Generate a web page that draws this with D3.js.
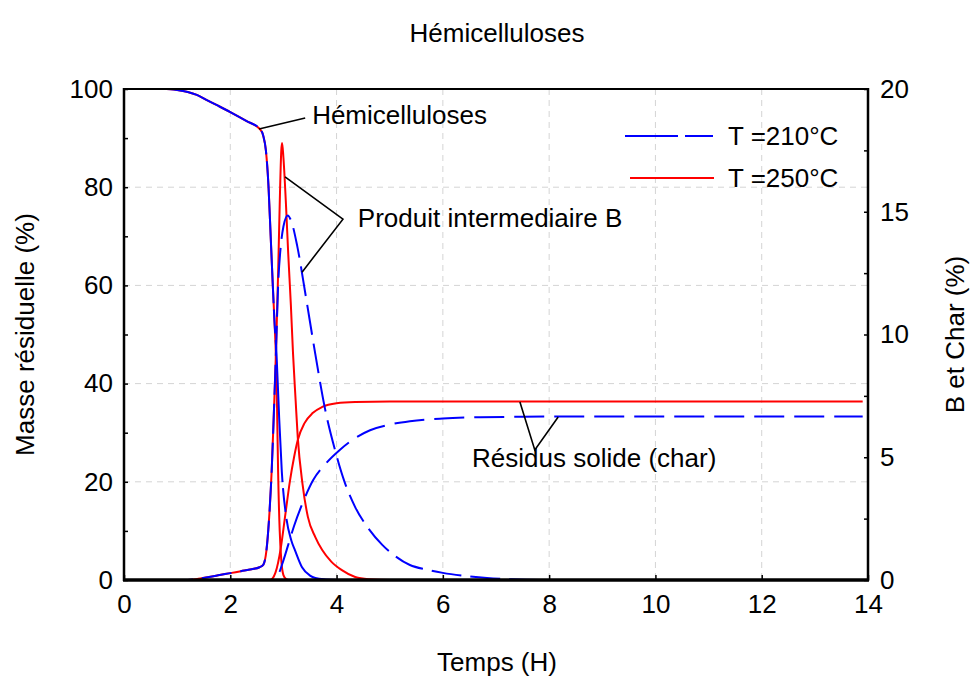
<!DOCTYPE html>
<html>
<head>
<meta charset="utf-8">
<script src="https://cdn.jsdelivr.net/npm/d3@7"></script>
<style>
  body { margin: 0; background: #fff; }
  svg { display: block; font-family: Arial, "Liberation Sans", Helvetica, sans-serif; }
</style>
</head>
<body>
<svg id="chart" width="970" height="678"></svg>
<script>
// ---------- DATA (time in hours) ----------
// Hemicelluloses, left axis (%)
const hemi210 = [[0,100],[0.5,100],[0.8,100],[1.0,99.8],[1.2,99.4],[1.37,98.8],[1.55,97.8],[1.75,96.7],[2.0,95.3],[2.3,93.5],[2.56,91.8],
  [2.62,90.5],[2.67,87.5],[2.72,80],[2.76,70],[2.8,60],[2.83,53],[2.87,46],[2.92,33],[2.97,22],[3.05,13],
  [3.15,8],[3.22,6],[3.35,2.6],[3.5,0.9],[3.6,0.4],[3.8,0.1],[4.0,0],[13.9,0]];
const hemi250 = [[0,100],[0.5,100],[0.8,100],[1.0,99.8],[1.2,99.4],[1.37,98.8],[1.55,97.8],[1.75,96.7],[2.0,95.3],[2.3,93.5],[2.56,91.8],
  [2.62,90.5],[2.67,87.5],[2.72,80],[2.76,70],[2.8,60],[2.83,53],[2.86,45],[2.88,35],[2.9,22],[2.93,10],
  [2.96,4],[3.0,1],[3.05,0.2],[3.1,0],[13.9,0]];
// Intermediate product B, right axis (%)
const b210 = [[0,0],[1.2,0],[1.4,0.05],[1.6,0.12],[1.8,0.2],[2.0,0.28],[2.2,0.36],[2.4,0.44],[2.55,0.52],[2.62,0.62],
  [2.68,1.2],[2.73,2.5],[2.78,4.5],[2.82,6.8],[2.86,9.3],[2.9,12.0],[2.95,13.6],[3.0,14.4],[3.08,14.85],[3.15,14.6],
  [3.26,13.6],[3.41,11.7],[3.6,9.2],[3.78,7.0],[3.97,5.3],[4.15,4.0],[4.35,2.97],[4.6,2.1],[4.86,1.43],[5.1,0.98],
  [5.38,0.61],[5.7,0.42],[6.0,0.29],[6.4,0.17],[6.83,0.08],[7.3,0.03],[8.0,0],[13.9,0]];
const b250 = [[0,0],[1.2,0],[1.4,0.05],[1.6,0.12],[1.8,0.2],[2.0,0.28],[2.2,0.36],[2.4,0.44],[2.55,0.52],[2.62,0.62],
  [2.68,1.2],[2.73,2.5],[2.78,4.5],[2.82,6.8],[2.86,9.3],[2.9,12.5],[2.93,15.3],[2.96,17.5],[2.975,17.8],[3.0,17.2],
  [3.05,15.2],[3.09,13.3],[3.14,11.2],[3.18,9.25],[3.23,7.3],[3.27,5.8],[3.36,3.9],[3.46,2.57],[3.6,1.75],
  [3.73,1.22],[3.9,0.75],[4.1,0.4],[4.35,0.12],[4.6,0.03],[5.0,0],[13.9,0]];
// Solid residue (char), right axis (%)
const char210 = [[0,0],[2.82,0],[2.9,0.2],[3.0,0.8],[3.09,1.43],[3.2,2.2],[3.37,3.18],[3.56,4.07],[3.8,4.75],
  [4.06,5.3],[4.35,5.78],[4.63,6.1],[5.0,6.33],[5.38,6.47],[6.0,6.58],[6.7,6.63],[7.5,6.65],[8.0,6.66],[13.9,6.66]];
const char250 = [[0,0],[2.75,0],[2.85,0.3],[2.95,1.3],[3.03,2.57],[3.12,4.0],[3.2,5.0],[3.27,5.7],[3.4,6.4],
  [3.55,6.8],[3.73,7.05],[4.0,7.2],[4.35,7.25],[5.0,7.27],[13.9,7.27]];

const xTicks = [0,2,4,6,8,10,12,14];
const yLeftTicks = [0,20,40,60,80,100];
const yRightTicks = [0,5,10,15,20];
const legendLabels = ["T =210°C", "T =250°C"];

// annotations in data units (time, left-axis %)
const annHemi = { text: "Hémicelluloses", pts: [[2.54,91.85],[3.41,94.1]], at: [3.54,92.9] };
const annB = { text: "Produit intermediaire B", pts: [[3.03,82.1],[4.12,73.5],[3.35,62.7]], at: [4.40,71.9] };
const annChar = { text: "Résidus solide (char)", pts: [[7.45,36.25],[7.73,26.5],[8.17,33.2]], at: [6.55,23.0] };

// ---------- LAYOUT ----------
const svg = d3.select("#chart");
const L = 124, R = 868, T = 89, B = 580;
const x = d3.scaleLinear().domain([0,14]).range([L,R]);
const yL = d3.scaleLinear().domain([0,100]).range([B,T]);
const yR = d3.scaleLinear().domain([0,20]).range([B,T]);
const FS = 26;

// grid
const grid = svg.append("g").attr("stroke", "#d4d4d4").attr("stroke-width", 1).attr("stroke-dasharray", "6,5");
xTicks.filter(d => d > 0 && d < 14).forEach(d => {
  grid.append("line").attr("x1", x(d)).attr("x2", x(d)).attr("y1", T).attr("y2", B);
});
yLeftTicks.filter(d => d > 0 && d < 100).forEach(d => {
  grid.append("line").attr("x1", L).attr("x2", R).attr("y1", yL(d)).attr("y2", yL(d));
});

// curves
const lineL = d3.line().x(d => x(d[0])).y(d => yL(d[1])).curve(d3.curveMonotoneX);
const lineR = d3.line().x(d => x(d[0])).y(d => yR(d[1])).curve(d3.curveMonotoneX);
const red = "#ff0000", blue = "#0000ff";
const curves = svg.append("g").attr("fill", "none").attr("stroke-width", 2);
curves.append("path").attr("d", lineL(hemi250)).attr("stroke", red);
curves.append("path").attr("d", lineR(b250)).attr("stroke", red);
curves.append("path").attr("d", lineR(char250)).attr("stroke", red);
curves.append("path").attr("d", lineL(hemi210)).attr("stroke", blue).attr("stroke-dasharray", "142,6,24,7");
curves.append("path").attr("d", lineR(b210)).attr("stroke", blue).attr("stroke-dasharray", "30,9");
curves.append("path").attr("d", lineR(char210)).attr("stroke", blue).attr("stroke-dasharray", "30,10");

// axes (ticks pointing inward)
const axisStyle = g => {
  g.selectAll(".domain").remove();
  g.selectAll("line").attr("stroke", "#000").attr("stroke-width", 1.5);
  g.selectAll("text").attr("font-size", FS).attr("fill", "#000").attr("font-family", "Arial, 'Liberation Sans', sans-serif");
};
svg.append("g").attr("transform", `translate(${L},0)`)
  .call(d3.axisLeft(yL).tickValues(yLeftTicks).tickSizeInner(-4).tickSizeOuter(0).tickPadding(11).tickFormat(d3.format("d")))
  .call(axisStyle);
svg.append("g").attr("transform", `translate(${L},0)`)
  .call(d3.axisLeft(yL).tickValues(d3.range(10,100,20)).tickSizeInner(-4).tickSizeOuter(0).tickFormat(""))
  .call(axisStyle);
svg.append("g").attr("transform", `translate(${R},0)`)
  .call(d3.axisRight(yR).tickValues(yRightTicks).tickSizeInner(-4).tickSizeOuter(0).tickPadding(12).tickFormat(d3.format("d")))
  .call(axisStyle);
svg.append("g").attr("transform", `translate(${R},0)`)
  .call(d3.axisRight(yR).tickValues(d3.range(2.5,20,5)).tickSizeInner(-4).tickSizeOuter(0).tickFormat(""))
  .call(axisStyle);
svg.append("g").attr("transform", `translate(0,${B})`)
  .call(d3.axisBottom(x).tickValues(xTicks).tickSizeInner(-5).tickSizeOuter(0).tickPadding(15).tickFormat(d3.format("d")))
  .call(axisStyle);

// frame
const frame = svg.append("g").attr("stroke", "#000").attr("fill", "none");
frame.append("line").attr("x1", L).attr("x2", R).attr("y1", T).attr("y2", T).attr("stroke-width", 2);
frame.append("line").attr("x1", L).attr("x2", L).attr("y1", T-1).attr("y2", B+1).attr("stroke-width", 2.5);
frame.append("line").attr("x1", R).attr("x2", R).attr("y1", T-1).attr("y2", B+1).attr("stroke-width", 2.5);
frame.append("line").attr("x1", L-1).attr("x2", R+1).attr("y1", B).attr("y2", B).attr("stroke-width", 3.5);

// annotations
const ann = svg.append("g");
[annHemi, annB, annChar].forEach(a => {
  ann.append("path")
    .attr("d", d3.line().x(d => x(d[0])).y(d => yL(d[1]))(a.pts))
    .attr("fill", "none").attr("stroke", "#000").attr("stroke-width", 1.6);
  ann.append("text").attr("x", x(a.at[0])).attr("y", yL(a.at[1]))
    .attr("font-size", FS).attr("fill", "#000").text(a.text);
});

// legend
const leg = svg.append("g");
leg.append("line").attr("x1", 625).attr("x2", 713).attr("y1", 136).attr("y2", 136)
  .attr("stroke", blue).attr("stroke-width", 2).attr("stroke-dasharray", "53,7");
leg.append("line").attr("x1", 630).attr("x2", 714).attr("y1", 178).attr("y2", 178)
  .attr("stroke", red).attr("stroke-width", 2);
leg.append("text").attr("x", 728).attr("y", 145).attr("font-size", FS).text(legendLabels[0]);
leg.append("text").attr("x", 728).attr("y", 187).attr("font-size", FS).text(legendLabels[1]);

// titles
svg.append("text").attr("x", 497).attr("y", 42).attr("text-anchor", "middle").attr("font-size", FS).text("Hémicelluloses");
svg.append("text").attr("x", 497).attr("y", 671).attr("text-anchor", "middle").attr("font-size", FS).text("Temps (H)");
svg.append("text").attr("transform", `translate(34,${(T+B)/2}) rotate(-90)`).attr("text-anchor", "middle")
  .attr("font-size", FS).text("Masse résiduelle (%)");
svg.append("text").attr("transform", `translate(964,${(T+B)/2}) rotate(-90)`).attr("text-anchor", "middle")
  .attr("font-size", FS).text("B et Char (%)");
</script>
</body>
</html>
